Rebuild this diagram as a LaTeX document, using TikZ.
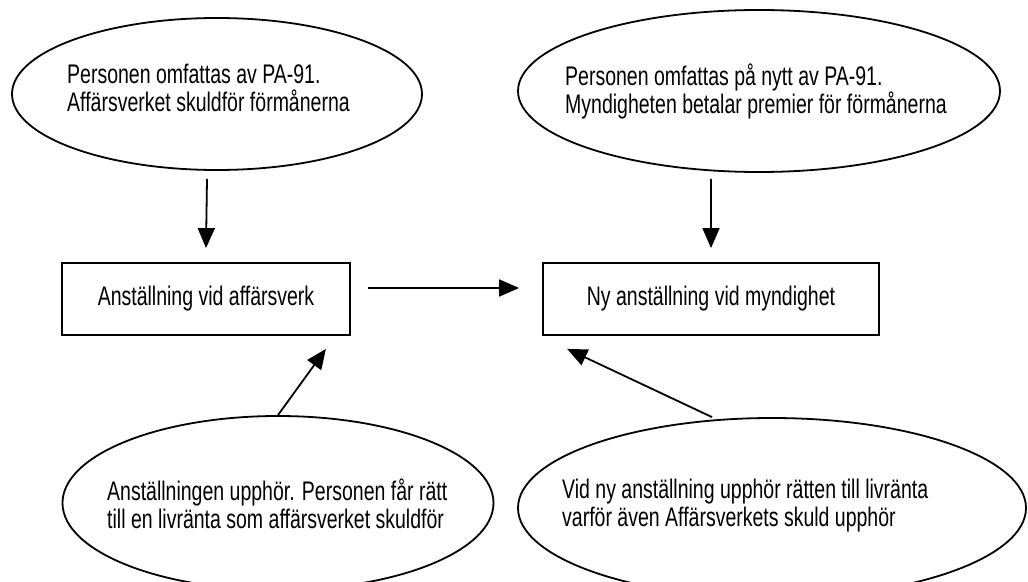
\documentclass[tikz,border=0pt]{standalone}
\usepackage{fontspec}
\setmainfont{Liberation Sans}[FakeStretch=0.725]
\usetikzlibrary{shapes.geometric,arrows.meta,positioning}

\tikzset{
  oval/.style={ellipse,draw,line width=1.8bp,inner sep=0pt},
  ruta/.style={rectangle,draw,line width=1.8bp,minimum height=72bp,
    font=\fontsize{27}{28}\selectfont},
  txt/.style={anchor=north west,align=left,inner sep=0pt,
    font=\fontsize{27}{28}\selectfont},
  pil/.style={-{Triangle[length=20bp,width=17bp]},line width=1.8bp}
}

\begin{document}
\begin{tikzpicture}[x=1bp,y=-1bp]
\useasboundingbox (0,0) rectangle (1028,582);
% ovaler upptill
\node[oval,minimum width=410bp,minimum height=152bp] (pa) at (217,94) {};
\node[txt] (patext) at (67,64) {Personen omfattas av PA-91.\\Affärsverket skuldför förmånerna};
\node[oval,minimum width=482bp,minimum height=162bp] (pany) at (759,91) {};
\node[txt] (panytext) at (565,64) {Personen omfattas på nytt av PA-91.\\Myndigheten betalar premier för förmånerna};
% anstallningar
\node[ruta,minimum width=288bp] (affv) at (206,299) {Anställning vid affärsverk};
\node[ruta,minimum width=336bp] (mynd) at (711,299) {Ny anställning vid myndighet};
% ovaler nedtill
\node[oval,minimum width=431bp,minimum height=174bp] (upphor) at (278,503) {};
\node[txt] (upphortext) at (107,479) {Anställningen upphör. Personen får rätt\\till en livränta som affärsverket skuldför};
\node[oval,minimum width=508bp,minimum height=180bp] (nyupphor) at (772,508) {};
\node[txt] (nyupphortext) at (562,479) {Vid ny anställning upphör rätten till livränta\\varför även Affärsverkets skuld upphör};
% pilar
\draw[pil] ([xshift=-10bp,yshift=-8bp]pa.south) -- ([yshift=14bp]affv.north);
\draw[pil] ([xshift=-48bp,yshift=-6bp]pany.south) -- ([yshift=14bp]mynd.north);
\draw[pil] ([xshift=17bp,yshift=11bp]affv.east) -- ([xshift=-23bp,yshift=11bp]mynd.west);
\draw[pil] (upphor.north) -- ([xshift=-25bp,yshift=-13bp]affv.south east);
\draw[pil] ([xshift=-60bp]nyupphor.north) -- ([xshift=25bp,yshift=-13bp]mynd.south west);
\end{tikzpicture}
\end{document}
